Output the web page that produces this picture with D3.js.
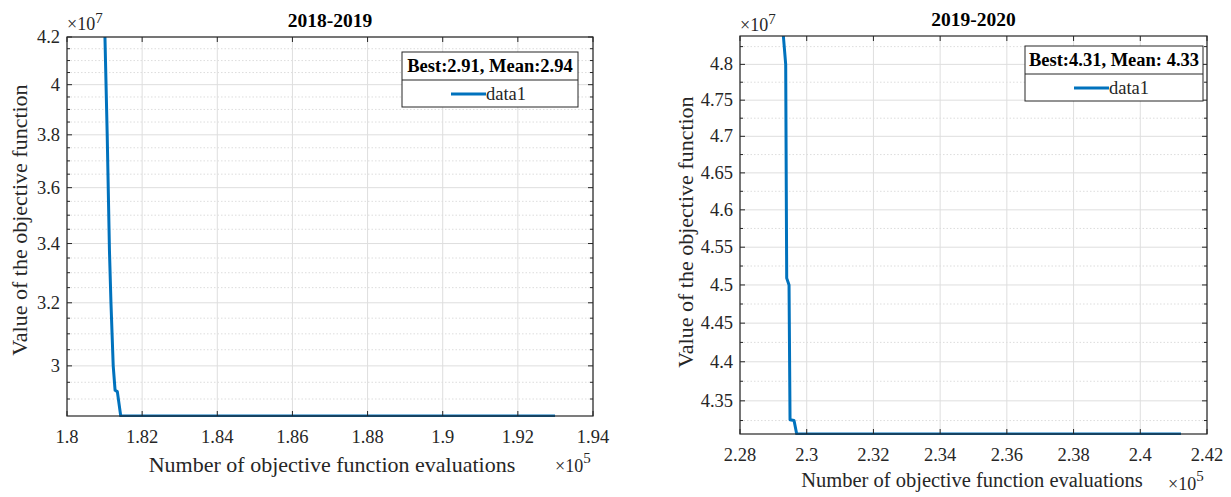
<!DOCTYPE html>
<html>
<head>
<meta charset="utf-8">
<style>
  body { margin: 0; background: #fff; }
  text { font-family: "Liberation Serif", "Times New Roman", serif; }
</style>
</head>
<body>
<svg width="1231" height="497"></svg>
<script src="https://cdn.jsdelivr.net/npm/d3@7/dist/d3.min.js"></script>
<script>

// ---- data (x in units of 1e5 evaluations, y in units of 1e7) ----
var titles = ["2018-2019", "2019-2020"];
var legendTitles = ["Best:2.91, Mean:2.94", "Best:4.31, Mean: 4.33"];
var seriesName = "data1";

var x1Vals = [1.8101, 1.8107, 1.8113, 1.8117, 1.8123, 1.8128, 1.8134, 1.8143, 1.9299];
var y1Vals = [4.2,    3.8,    3.375,  3.2,    3.0,    2.926,  2.922,  2.85,   2.85];

var x2Vals = [2.2930, 2.2937, 2.2940, 2.2947, 2.2950, 2.2962, 2.2970, 2.4122];
var y2Vals = [4.84,   4.80,   4.509,  4.50,   4.326,  4.325,  4.308,  4.308];

var x1Ticks = [1.8, 1.82, 1.84, 1.86, 1.88, 1.9, 1.92, 1.94];
var x1TickLabels = ["1.8", "1.82", "1.84", "1.86", "1.88", "1.9", "1.92", "1.94"];
var y1Ticks = [3, 3.2, 3.4, 3.6, 3.8, 4, 4.2];
var y1TickLabels = ["3", "3.2", "3.4", "3.6", "3.8", "4", "4.2"];
var y1Minor = [2.9, 2.95, 3.05, 3.1, 3.15, 3.25, 3.3, 3.35, 3.45, 3.5, 3.55, 3.65, 3.7, 3.75, 3.85, 3.9, 3.95, 4.05, 4.1, 4.15];

var x2Ticks = [2.28, 2.3, 2.32, 2.34, 2.36, 2.38, 2.4, 2.42];
var x2TickLabels = ["2.28", "2.3", "2.32", "2.34", "2.36", "2.38", "2.4", "2.42"];
var y2Ticks = [4.35, 4.4, 4.45, 4.5, 4.55, 4.6, 4.65, 4.7, 4.75, 4.8];
var y2TickLabels = ["4.35", "4.4", "4.45", "4.5", "4.55", "4.6", "4.65", "4.7", "4.75", "4.8"];
var y2Minor = [4.325, 4.375, 4.425, 4.475, 4.525, 4.575, 4.625, 4.675, 4.725, 4.775, 4.825];

var xLabel = "Number of objective function evaluations";
var yLabel = "Value of the objective function";

// ---- layout ----
var panels = [
  { left: 67, right: 593, top: 37, bottom: 416, xDomain: [1.8, 1.94], yDomain: [2.85, 4.2],
    xs: x1Vals, ys: y1Vals, xTicks: x1Ticks, xLabels: x1TickLabels, yTicks: y1Ticks, yLabels: y1TickLabels, yMinor: y1Minor,
    title: titles[0], titleY: 27, legTitle: legendTitles[0],
    leg: { x: 402, y: 52, w: 176, h: 55, div: 28 },
    xLab: { x: 332, y: 472, size: 22 }, yLab: { x: 27, y: 220, size: 22 },
    xExp: { x: 555, y: 472 }, yExp: { x: 67, y: 30 } },
  { left: 740, right: 1207, top: 36, bottom: 434, xDomain: [2.28, 2.42], yDomain: [4.308, 4.84],
    xs: x2Vals, ys: y2Vals, xTicks: x2Ticks, xLabels: x2TickLabels, yTicks: y2Ticks, yLabels: y2TickLabels, yMinor: y2Minor,
    title: titles[1], titleY: 26, legTitle: legendTitles[1],
    leg: { x: 1025, y: 46, w: 178, h: 55, div: 28 },
    xLab: { x: 972, y: 487, size: 20.5 }, yLab: { x: 693, y: 232, size: 22 },
    xExp: { x: 1168, y: 490 }, yExp: { x: 740, y: 31 } }
];

var svg = d3.select("svg");
var axisColor = "#262626";

panels.forEach(function(p, i) {
  var x = d3.scaleLinear().domain(p.xDomain).range([p.left, p.right]);
  var y = d3.scaleLog().domain(p.yDomain).range([p.bottom, p.top]);
  var g = svg.append("g");

  // grid
  g.selectAll(".ym").data(p.yMinor).enter().append("line")
      .attr("x1", p.left).attr("x2", p.right)
      .attr("y1", function(d) { return y(d); }).attr("y2", function(d) { return y(d); })
      .attr("stroke", "#d4d4d4").attr("stroke-width", 0.8).attr("stroke-dasharray", "1.5,2");
  g.selectAll(".yg").data(p.yTicks).enter().append("line")
      .attr("x1", p.left).attr("x2", p.right)
      .attr("y1", function(d) { return y(d); }).attr("y2", function(d) { return y(d); })
      .attr("stroke", "#dedede").attr("stroke-width", 1);
  g.selectAll(".xg").data(p.xTicks).enter().append("line")
      .attr("y1", p.top).attr("y2", p.bottom)
      .attr("x1", function(d) { return x(d); }).attr("x2", function(d) { return x(d); })
      .attr("stroke", "#dedede").attr("stroke-width", 1);

  // line
  var clipId = "clip" + i;
  svg.append("clipPath").attr("id", clipId).append("rect")
      .attr("x", p.left).attr("y", p.top - 1)
      .attr("width", p.right - p.left).attr("height", p.bottom - p.top + 2);

  var line = d3.line()
      .x(function(d) { return x(d[0]); })
      .y(function(d) { return y(d[1]); });

  g.append("path")
      .datum(d3.zip(p.xs, p.ys))
      .attr("clip-path", "url(#" + clipId + ")")
      .attr("fill", "none")
      .attr("stroke", "#0072BD")
      .attr("stroke-width", 3)
      .attr("stroke-linejoin", "round")
      .attr("d", line);

  // axes box
  g.append("rect")
      .attr("x", p.left).attr("y", p.top)
      .attr("width", p.right - p.left).attr("height", p.bottom - p.top)
      .attr("fill", "none").attr("stroke", axisColor).attr("stroke-width", 1.2);

  // ticks (inward, on all four sides)
  var xt = g.selectAll(".xt").data(p.xTicks).enter();
  xt.append("line").attr("x1", function(d) { return x(d); }).attr("x2", function(d) { return x(d); })
      .attr("y1", p.bottom).attr("y2", p.bottom - 5).attr("stroke", axisColor);
  xt.append("line").attr("x1", function(d) { return x(d); }).attr("x2", function(d) { return x(d); })
      .attr("y1", p.top).attr("y2", p.top + 5).attr("stroke", axisColor);
  var yt = g.selectAll(".yt").data(p.yTicks).enter();
  yt.append("line").attr("y1", function(d) { return y(d); }).attr("y2", function(d) { return y(d); })
      .attr("x1", p.left).attr("x2", p.left + 5).attr("stroke", axisColor);
  yt.append("line").attr("y1", function(d) { return y(d); }).attr("y2", function(d) { return y(d); })
      .attr("x1", p.right).attr("x2", p.right - 5).attr("stroke", axisColor);
  var ym = g.selectAll(".ymt").data(p.yMinor).enter();
  ym.append("line").attr("y1", function(d) { return y(d); }).attr("y2", function(d) { return y(d); })
      .attr("x1", p.left).attr("x2", p.left + 3).attr("stroke", axisColor);
  ym.append("line").attr("y1", function(d) { return y(d); }).attr("y2", function(d) { return y(d); })
      .attr("x1", p.right).attr("x2", p.right - 3).attr("stroke", axisColor);

  // tick labels
  g.selectAll(".xl").data(p.xTicks).enter().append("text")
      .attr("x", function(d) { return x(d); })
      .attr("y", p.bottom + 27)
      .attr("text-anchor", "middle")
      .attr("font-size", 18.5).attr("fill", axisColor)
      .text(function(d, j) { return p.xLabels[j]; });
  g.selectAll(".yl").data(p.yTicks).enter().append("text")
      .attr("x", p.left - 7)
      .attr("y", function(d) { return y(d) + 6; })
      .attr("text-anchor", "end")
      .attr("font-size", 18.5).attr("fill", axisColor)
      .text(function(d, j) { return p.yLabels[j]; });

  // exponents
  var ex = g.append("text").attr("x", p.xExp.x).attr("y", p.xExp.y)
      .attr("font-size", 18).attr("fill", axisColor);
  ex.append("tspan").text("×10");
  ex.append("tspan").attr("dy", -9).attr("font-size", 15).text("5");
  var ey = g.append("text").attr("x", p.yExp.x).attr("y", p.yExp.y)
      .attr("font-size", 18).attr("fill", axisColor);
  ey.append("tspan").text("×10");
  ey.append("tspan").attr("dy", -7).attr("font-size", 15).text("7");

  // axis labels
  g.append("text")
      .attr("x", p.xLab.x).attr("y", p.xLab.y)
      .attr("text-anchor", "middle")
      .attr("font-size", p.xLab.size).attr("fill", axisColor)
      .text(xLabel);
  g.append("text")
      .attr("transform", "translate(" + p.yLab.x + "," + p.yLab.y + ") rotate(-90)")
      .attr("text-anchor", "middle")
      .attr("font-size", p.yLab.size).attr("fill", axisColor)
      .text(yLabel);

  // title
  g.append("text")
      .attr("x", (p.left + p.right) / 2).attr("y", p.titleY)
      .attr("text-anchor", "middle")
      .attr("font-size", 19.5).attr("font-weight", "bold").attr("fill", "#000")
      .text(p.title);

  // legend
  var L = p.leg;
  var lg = g.append("g");
  lg.append("rect").attr("x", L.x).attr("y", L.y).attr("width", L.w).attr("height", L.h)
      .attr("fill", "#fff").attr("stroke", axisColor).attr("stroke-width", 1);
  lg.append("line").attr("x1", L.x).attr("x2", L.x + L.w)
      .attr("y1", L.y + L.div).attr("y2", L.y + L.div)
      .attr("stroke", axisColor).attr("stroke-width", 1);
  lg.append("text").attr("x", L.x + L.w / 2).attr("y", L.y + 20)
      .attr("text-anchor", "middle").attr("font-size", 18.5).attr("font-weight", "bold").attr("fill", "#000")
      .text(p.legTitle);
  lg.append("line").attr("x1", L.x + 49).attr("x2", L.x + 84)
      .attr("y1", L.y + 42).attr("y2", L.y + 42)
      .attr("stroke", "#0072BD").attr("stroke-width", 3);
  lg.append("text").attr("x", L.x + 84).attr("y", L.y + 48)
      .attr("font-size", 18.5).attr("fill", axisColor)
      .text(seriesName);
});

</script>
</body>
</html>
